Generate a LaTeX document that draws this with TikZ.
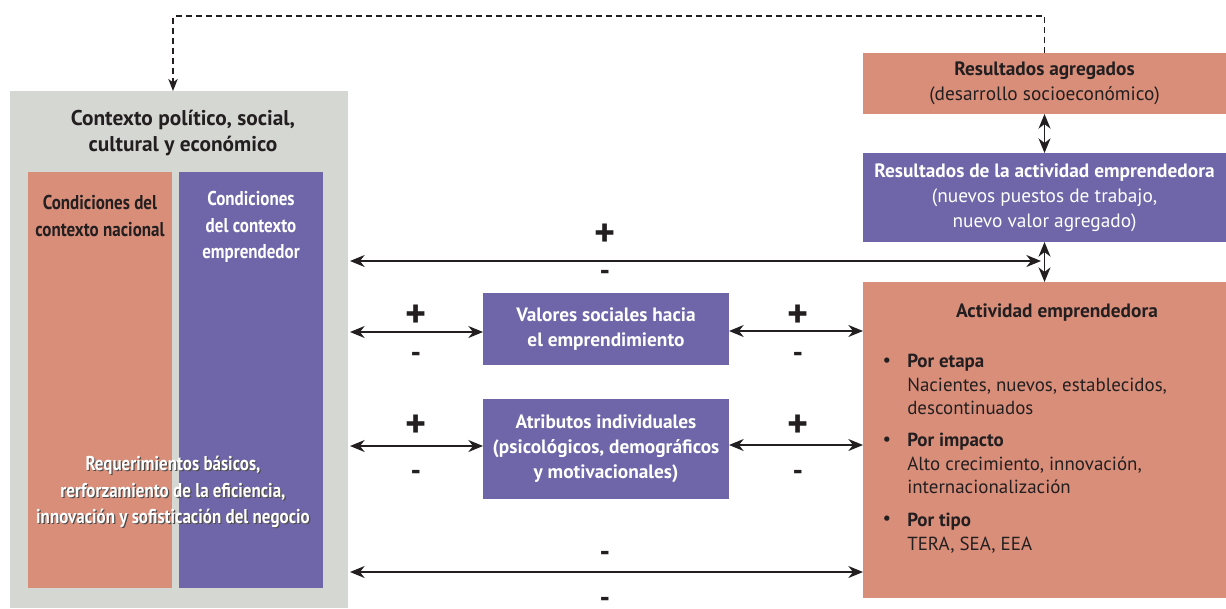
\documentclass[tikz,border=0pt]{standalone}
\usepackage{fontspec}
\setmainfont{PT Sans}
\newfontfamily\condfont[FakeStretch=0.85]{PT Sans}
\usepackage{xcolor}
\usetikzlibrary{arrows.meta,positioning,fit}
\definecolor{salmon}{HTML}{D98E7A}
\definecolor{lavender}{HTML}{6E66A8}
\definecolor{ctxgray}{HTML}{D5D7D2}
\definecolor{ink}{HTML}{231F20}

\begin{document}
\begin{tikzpicture}
  [
    x=0.75pt, y=-0.75pt,
    Panel/.style={inner sep=0pt, outer sep=0pt},
    Gray/.style={Panel, fill=ctxgray},
    Salmon/.style={Panel, fill=salmon},
    Purple/.style={Panel, fill=lavender},
    Head/.style={align=center, text=ink, font=\bfseries\fontsize{16}{19.5}\selectfont},
    Cond/.style={align=center, font=\condfont\bfseries\fontsize{15}{20}\selectfont},
    Label/.style={align=center, font=\bfseries\fontsize{14.5}{18.7}\selectfont},
    Item/.style={align=left, inner sep=0pt, text=ink, font=\fontsize{14.2}{17.6}\selectfont},
    Plus/.style={text=ink, inner sep=0pt, font=\bfseries\fontsize{30}{30}\selectfont},
    Minus/.style={text=ink, inner sep=0pt, font=\bfseries\fontsize{22}{22}\selectfont},
    Link/.style={{Stealth[length=11pt,width=9pt,inset=3.5pt]}-{Stealth[length=11pt,width=9pt,inset=3.5pt]}, line width=1pt, draw=ink},
    Loop/.style={dash pattern=on 4.5pt off 3pt, line width=1.2pt, draw=ink, -{Stealth[length=9pt,width=7pt,inset=2.5pt]}}
  ]
  \useasboundingbox (0,0) rectangle (1226,608);
  % Boxes
  \node[Gray, fit={(10,91) (348,608)}] (ctx) {};
  \node[Salmon, fit={(28,172) (172,588)}] (nac) {};
  \node[Purple, fit={(179,172) (323,588)}] (emp) {};
  \node[Salmon, fit={(863,53) (1226,114)}] (agg) {};
  \node[Purple, fit={(863,153) (1226,242)}] (res) {};
  \node[Salmon, fit={(863,282) (1226,598)}] (act) {};
  \node[Purple, fit={(483,293) (729,365)}] (val) {};
  \node[Purple, fit={(483,399) (729,499)}] (atr) {};
  % Texts
  \node[Head] (ctxtitle) at (183,133) {Contexto político, social,\\cultural y económico};
  \node[Cond, text=ink] (nactext) at (100,216) {Condiciones del\\contexto nacional};
  \node[Cond, text=white] (emptext) at (251,227) {Condiciones\\del contexto\\emprendedor};
  \node[Cond, text=ink!80] (reqshadow) at (174.2,493.2) {Requerimientos básicos,\\rerforzamiento de la eficiencia,\\innovación y sofisticación del negocio};
  \node[Cond, text=white] (req) at (173,492) {Requerimientos básicos,\\rerforzamiento de la eficiencia,\\innovación y sofisticación del negocio};
  \node[Label, text=ink] (aggtext) at (agg) {Resultados agregados\\\mdseries(desarrollo socioeconómico)};
  \node[Label, text=white] (restext) at (res) {Resultados de la actividad emprendedora\\\mdseries(nuevos puestos de trabajo,\\\mdseries nuevo valor agregado)};
  \node[Label, text=white] (valtext) at (val) {Valores sociales hacia\\el emprendimiento};
  \node[Label, text=white] (atrtext) at (atr) {Atributos individuales\\(psicológicos, demográficos\\y motivacionales)};
  \node[Label, text=ink] (acttitle) at (1057,313) {Actividad emprendedora};
  % List
  \node[Item, anchor=north west] (etapa) at (907,354) {\textbf{Por etapa}\\Nacientes, nuevos, establecidos,\\descontinuados};
  \node[Item, anchor=north west] (impacto) at (907,433) {\textbf{Por impacto}\\Alto crecimiento, innovación,\\internacionalización};
  \node[Item, anchor=north west] (tipo) at (907,513) {\textbf{Por tipo}\\TERA, SEA, EEA};
  \foreach \name/\y in {b1/362, b2/441, b3/520}
    \node[Item] (\name) at (887,\y) {\textbullet};
  % Signs
  \node[Plus] (ptop) at (605,235) {+};
  \node[Minus] (mtop) at (605,275) {-};
  \foreach \x/\s in {416/l, 798/r} {
    \node[Plus] (pv\s) at (\x,316) {+};
    \node[Minus] (mv\s) at (\x,357) {-};
    \node[Plus] (pa\s) at (\x,426) {+};
    \node[Minus] (ma\s) at (\x,475) {-};
  }
  \node[Minus] (mlow) at (605,556) {-};
  \node[Minus] (mbot) at (605,602) {-};
  % Lines
  \coordinate (loop) at (173,16);
  \coordinate (tip) at (1041,261);
  \coordinate (low) at (605,572);
  \draw[Loop] (agg.north) |- (loop) -- (loop |- ctx.north);
  \draw[Link] (agg.south) -- (res.north);
  \draw[Link] (res.south) -- (act.north);
  \draw[Link, shorten <=1.5pt] (tip -| ctx.east) -- (tip);
  \draw[Link, shorten <=1.5pt] ([yshift=-2.25pt]val.west -| ctx.east) -- ([yshift=-2.25pt]val.west);
  \draw[Link] ([yshift=-1.5pt]val.east) -- ([yshift=-1.5pt]val.east -| act.west);
  \draw[Link, shorten <=1.5pt] ([yshift=2.25pt]atr.west -| ctx.east) -- ([yshift=2.25pt]atr.west);
  \draw[Link] ([yshift=3pt]atr.east) -- ([yshift=3pt]atr.east -| act.west);
  \draw[Link, shorten <=1.5pt] (low -| ctx.east) -- (low -| act.west);
\end{tikzpicture}
\end{document}
